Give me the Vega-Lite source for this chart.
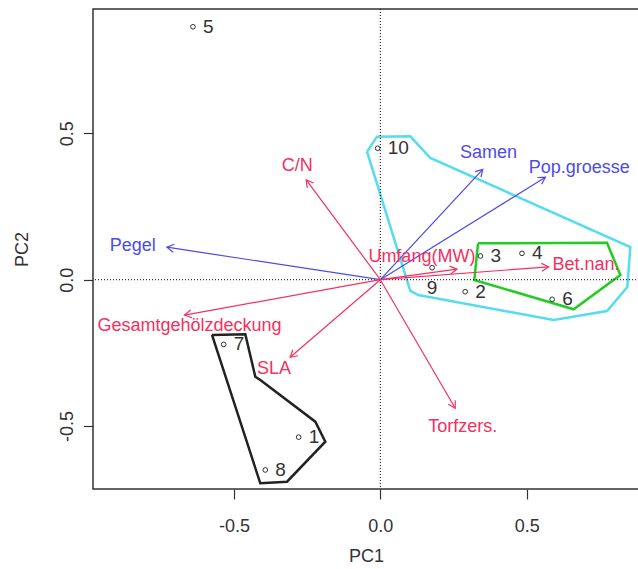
{
  "$schema": "https://vega.github.io/schema/vega-lite/v6.json",
  "width": 546,
  "height": 480,
  "autosize": {"type": "none"},
  "padding": {"left": 93, "top": 9, "right": 0, "bottom": 80},
  "background": "white",
  "config": {
    "view": {"stroke": "#333", "strokeWidth": 1.5},
    "font": "Liberation Sans"
  },
  "datasets": {
    "hulls": [
      {"hull": "cyan", "ord": 1, "x": -0.0454, "y": 0.4373},
      {"hull": "cyan", "ord": 2, "x": -0.0113, "y": 0.4886},
      {"hull": "cyan", "ord": 3, "x": 0.1025, "y": 0.4899},
      {"hull": "cyan", "ord": 4, "x": 0.1708, "y": 0.4158},
      {"hull": "cyan", "ord": 5, "x": 0.8541, "y": 0.1117},
      {"hull": "cyan", "ord": 6, "x": 0.8439, "y": -0.0249},
      {"hull": "cyan", "ord": 7, "x": 0.7745, "y": -0.1069},
      {"hull": "cyan", "ord": 8, "x": 0.5921, "y": -0.1377},
      {"hull": "cyan", "ord": 9, "x": 0.1298, "y": -0.0523},
      {"hull": "cyan", "ord": 10, "x": 0.1025, "y": -0.0386},
      {"hull": "cyan", "ord": 11, "x": -0.0454, "y": 0.4373},
      {"hull": "green", "ord": 1, "x": 0.3338, "y": 0.1244},
      {"hull": "green", "ord": 2, "x": 0.7745, "y": 0.1264},
      {"hull": "green", "ord": 3, "x": 0.82, "y": 0.0161},
      {"hull": "green", "ord": 4, "x": 0.6604, "y": -0.1011},
      {"hull": "green", "ord": 5, "x": 0.3211, "y": -0.001},
      {"hull": "green", "ord": 6, "x": 0.3338, "y": 0.1244},
      {"hull": "black", "ord": 1, "x": -0.575, "y": -0.1889},
      {"hull": "black", "ord": 2, "x": -0.4612, "y": -0.1865},
      {"hull": "black", "ord": 3, "x": -0.4271, "y": -0.3314},
      {"hull": "black", "ord": 4, "x": -0.41, "y": -0.3427},
      {"hull": "black", "ord": 5, "x": -0.2221, "y": -0.4851},
      {"hull": "black", "ord": 6, "x": -0.1879, "y": -0.5535},
      {"hull": "black", "ord": 7, "x": -0.3188, "y": -0.6901},
      {"hull": "black", "ord": 8, "x": -0.41, "y": -0.6956},
      {"hull": "black", "ord": 9, "x": -0.575, "y": -0.1889}
    ],
    "sites": [
      {"label": "1", "x": -0.279, "y": -0.538},
      {"label": "2", "x": 0.29, "y": -0.041},
      {"label": "3", "x": 0.342, "y": 0.081},
      {"label": "4", "x": 0.484, "y": 0.09},
      {"label": "5", "x": -0.64, "y": 0.864},
      {"label": "6", "x": 0.587, "y": -0.067},
      {"label": "7", "x": -0.535, "y": -0.221},
      {"label": "8", "x": -0.393, "y": -0.65},
      {"label": "9", "x": 0.177, "y": 0.041},
      {"label": "10", "x": -0.009, "y": 0.449}
    ],
    "vars": [
      {"name": "Pegel", "set": "blue", "x": -0.729, "y": 0.111, "lx": -0.846, "ly": 0.115},
      {"name": "C/N", "set": "red", "x": -0.253, "y": 0.341, "lx": -0.284, "ly": 0.39},
      {"name": "Samen", "set": "blue", "x": 0.35, "y": 0.377, "lx": 0.37, "ly": 0.434},
      {"name": "Pop.groesse", "set": "blue", "x": 0.564, "y": 0.35, "lx": 0.68, "ly": 0.381},
      {"name": "Umfang(MW)", "set": "red", "x": 0.262, "y": 0.036, "lx": 0.142, "ly": 0.079},
      {"name": "Bet.nan.", "set": "red", "x": 0.575, "y": 0.044, "lx": 0.703, "ly": 0.05},
      {"name": "Gesamtgehölzdeckung", "set": "red", "x": -0.669, "y": -0.121, "lx": -0.652, "ly": -0.157},
      {"name": "SLA", "set": "red", "x": -0.308, "y": -0.265, "lx": -0.363, "ly": -0.306},
      {"name": "Torfzers.", "set": "red", "x": 0.256, "y": -0.439, "lx": 0.282, "ly": -0.504}
    ]
  },
  "layer": [
    {
      "data": {"name": "hulls"},
      "mark": {"type": "line", "strokeWidth": 2.5, "interpolate": "linear"},
      "encoding": {
        "x": {
          "field": "x",
          "type": "quantitative",
          "scale": {"domain": [-0.9816, 0.8838], "nice": false, "zero": false},
          "axis": {
            "title": "PC1",
            "values": [-0.5, 0, 0.5],
            "labelExpr": "(datum.value < 0 ? '-' : '') + format(abs(datum.value), '.1f')",
            "domain": false,
            "grid": false,
            "tickSize": 10,
            "tickColor": "#333",
            "tickWidth": 1.2,
            "labelFontSize": 18,
            "labelColor": "#333",
            "labelPadding": 18,
            "labelFlush": false,
            "titleFontSize": 18,
            "titleFontWeight": "normal",
            "titleColor": "#333",
            "titleBaseline": "alphabetic",
            "titleY": 72
          }
        },
        "y": {
          "field": "y",
          "type": "quantitative",
          "scale": {"domain": [-0.7151, 0.9248], "nice": false, "zero": false},
          "axis": {
            "title": "PC2",
            "values": [-0.5, 0, 0.5],
            "labelExpr": "(datum.value < 0 ? '-' : '') + format(abs(datum.value), '.1f')",
            "domain": false,
            "grid": false,
            "tickSize": 9.5,
            "tickColor": "#333",
            "tickWidth": 1.2,
            "labelFontSize": 18,
            "labelColor": "#333",
            "labelAngle": -90,
            "labelAlign": "center",
            "labelBaseline": "bottom",
            "labelPadding": 7.5,
            "labelFlush": false,
            "titleFontSize": 18,
            "titleFontWeight": "normal",
            "titleColor": "#333",
            "titleAngle": 270,
            "titleAlign": "center",
            "titleBaseline": "alphabetic",
            "titleX": -66,
            "titleY": 240
          }
        },
        "order": {"field": "ord", "type": "quantitative"},
        "detail": {"field": "hull", "type": "nominal"},
        "color": {
          "field": "hull",
          "type": "nominal",
          "scale": {"domain": ["cyan", "green", "black", "red", "blue"], "range": ["#55DCEE", "#22CC22", "#222222", "#F5305E", "#4B4BEB"]},
          "legend": null
        }
      }
    },
    {
      "data": {"values": [{"v": 0}]},
      "mark": {"type": "rule", "color": "#000", "strokeWidth": 1, "strokeDash": [1, 2]},
      "encoding": {"x": {"field": "v", "type": "quantitative"}}
    },
    {
      "data": {"values": [{"v": 0}]},
      "mark": {"type": "rule", "color": "#000", "strokeWidth": 1, "strokeDash": [1, 2]},
      "encoding": {"y": {"field": "v", "type": "quantitative"}}
    },
    {
      "data": {"name": "vars"},
      "mark": {"type": "rule", "strokeWidth": 1.2},
      "encoding": {
        "x": {"field": "x", "type": "quantitative"},
        "y": {"field": "y", "type": "quantitative"},
        "x2": {"datum": 0},
        "y2": {"datum": 0},
        "color": {"field": "set", "type": "nominal", "legend": null}
      }
    },
    {
      "data": {"name": "vars"},
      "transform": [{"calculate": "atan2(datum.x, datum.y) * 180 / PI", "as": "ang"}],
      "mark": {"type": "point", "shape": "M-0.5,0.866L0,0L0.5,0.866", "filled": false, "size": 256, "strokeWidth": 1.2, "opacity": 1},
      "encoding": {
        "x": {"field": "x", "type": "quantitative"},
        "y": {"field": "y", "type": "quantitative"},
        "angle": {"field": "ang", "type": "quantitative", "scale": null},
        "color": {"field": "set", "type": "nominal", "legend": null}
      }
    },
    {
      "data": {"name": "vars"},
      "mark": {"type": "text", "fontSize": 18, "align": "center", "baseline": "middle"},
      "encoding": {
        "x": {"field": "lx", "type": "quantitative"},
        "y": {"field": "ly", "type": "quantitative"},
        "text": {"field": "name", "type": "nominal"},
        "color": {"field": "set", "type": "nominal", "legend": null}
      }
    },
    {
      "data": {"name": "sites"},
      "mark": {"type": "point", "shape": "circle", "filled": false, "size": 22, "color": "#333", "strokeWidth": 1, "opacity": 1},
      "encoding": {
        "x": {"field": "x", "type": "quantitative"},
        "y": {"field": "y", "type": "quantitative"}
      }
    },
    {
      "data": {"name": "sites"},
      "transform": [{"filter": "datum.label != '9'"}],
      "mark": {"type": "text", "fontSize": 19, "align": "left", "baseline": "middle", "dx": 10, "color": "#333"},
      "encoding": {
        "x": {"field": "x", "type": "quantitative"},
        "y": {"field": "y", "type": "quantitative"},
        "text": {"field": "label", "type": "nominal"}
      }
    },
    {
      "data": {"name": "sites"},
      "transform": [{"filter": "datum.label == '9'"}],
      "mark": {"type": "text", "fontSize": 19, "align": "center", "baseline": "middle", "dy": 20, "color": "#333"},
      "encoding": {
        "x": {"field": "x", "type": "quantitative"},
        "y": {"field": "y", "type": "quantitative"},
        "text": {"field": "label", "type": "nominal"}
      }
    }
  ]
}
